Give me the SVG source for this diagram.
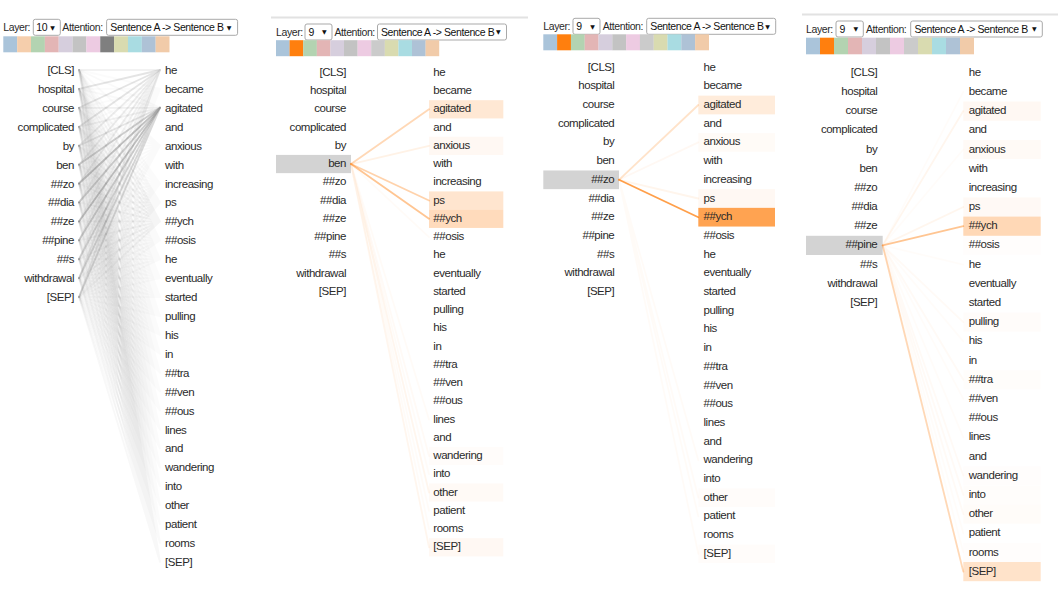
<svg xmlns="http://www.w3.org/2000/svg" width="1061" height="596" viewBox="0 0 1061 596">
<style>
.t{font-family:"Liberation Sans",Arial,sans-serif;font-size:11.5px;letter-spacing:-0.45px;fill:#2a2a2a}
.a{text-anchor:end}
.h{font-size:10.5px;letter-spacing:-0.4px}
.k{fill:#111}
.sel{fill:#fff;stroke:#a9a9a9;stroke-width:1}
.arr{font-family:"DejaVu Sans","Liberation Sans",sans-serif;font-size:6px;fill:#111}
.g{stroke:#808080;stroke-width:1.8;fill:none;stroke-linecap:round}
.o{stroke:#ff7f0e;stroke-width:1.8;fill:none;stroke-linecap:round}
.hl{fill:#d3d3d3}
.bx{fill:#ff7f0e}
.rule{stroke:#e2e2e2;stroke-width:2}
</style>
<rect width="1061" height="596" fill="#fff"/>
<line class="rule" x1="271" y1="17.5" x2="528" y2="17.5"/>
<line class="rule" x1="802" y1="14.5" x2="1058" y2="14.5"/>

<!-- headers -->
<g id="p1-head" transform="translate(3.3,19.3)">
<text class="t h" x="0" y="11.8">Layer:</text>
<rect class="sel" x="30" y="0" width="27" height="16" rx="2"/>
<text class="t h k" x="33" y="11.8">10</text>
<text class="arr" x="47" y="10.3">▼</text>
<text class="t h" x="59" y="11.8">Attention:</text>
<rect class="sel" x="103.3" y="0" width="131" height="16" rx="2"/>
<text class="t h k" x="107" y="11.8">Sentence A -&gt; Sentence B</text>
<text class="arr" x="223.5" y="10.3">▼</text>
<g transform="translate(0,17)">
<rect x="0" width="13.9" height="16" fill="#aac4da"/><rect x="13.85" width="13.9" height="16" fill="#f5ceac"/><rect x="27.7" width="13.9" height="16" fill="#b3d3b1"/><rect x="41.55" width="13.9" height="16" fill="#e3b5b5"/><rect x="55.4" width="13.9" height="16" fill="#d6cedd"/><rect x="69.25" width="13.9" height="16" fill="#c3c3c3"/><rect x="83.1" width="13.9" height="16" fill="#edcbe2"/><rect x="96.95" width="13.9" height="16" fill="#7f7f7f"/><rect x="110.8" width="13.9" height="16" fill="#d9dbb0"/><rect x="124.65" width="13.9" height="16" fill="#a9dce2"/><rect x="138.5" width="13.9" height="16" fill="#aec2d6"/><rect x="152.35" width="13.85" height="16" fill="#f1cba9"/>
</g>
</g>
<g id="p2-head" transform="translate(276,24)">
<text class="t h" x="0" y="11.8">Layer:</text>
<rect class="sel" x="29" y="0" width="27" height="16" rx="2"/>
<text class="t h k" x="32.5" y="11.8">9</text>
<text class="arr" x="46" y="10.3">▼</text>
<text class="t h" x="58.5" y="11.8">Attention:</text>
<rect class="sel" x="101.5" y="0" width="129" height="16" rx="2"/>
<text class="t h k" x="105" y="11.8">Sentence A -&gt; Sentence B</text>
<text class="arr" x="220" y="10.3">▼</text>
<g transform="translate(0,16.2)">
<rect x="0" width="13.7" height="16" fill="#aac4da"/><rect x="13.6" width="13.7" height="16" fill="#ff7f0e"/><rect x="27.2" width="13.7" height="16" fill="#b3d3b1"/><rect x="40.8" width="13.7" height="16" fill="#e3b5b5"/><rect x="54.4" width="13.7" height="16" fill="#d6cedd"/><rect x="68" width="13.7" height="16" fill="#c3c3c3"/><rect x="81.6" width="13.7" height="16" fill="#edcbe2"/><rect x="95.2" width="13.7" height="16" fill="#cbcbcb"/><rect x="108.8" width="13.7" height="16" fill="#d9dbb0"/><rect x="122.4" width="13.7" height="16" fill="#a9dce2"/><rect x="136" width="13.7" height="16" fill="#aec2d6"/><rect x="149.6" width="13.6" height="16" fill="#f1cba9"/>
</g>
</g>
<g id="p3-head" transform="translate(543.3,18.3)">
<text class="t h" x="0" y="11.8">Layer:</text>
<rect class="sel" x="29.7" y="0" width="27" height="16" rx="2"/>
<text class="t h k" x="33" y="11.8">9</text>
<text class="arr" x="47" y="10.3">▼</text>
<text class="t h" x="59.4" y="11.8">Attention:</text>
<rect class="sel" x="103.4" y="0" width="129" height="16" rx="2"/>
<text class="t h k" x="107" y="11.8">Sentence A -&gt; Sentence B</text>
<text class="arr" x="222" y="10.3">▼</text>
<g transform="translate(0,16)">
<rect x="0" width="13.9" height="16" fill="#aac4da"/><rect x="13.8" width="13.9" height="16" fill="#ff7f0e"/><rect x="27.6" width="13.9" height="16" fill="#b3d3b1"/><rect x="41.4" width="13.9" height="16" fill="#e3b5b5"/><rect x="55.2" width="13.9" height="16" fill="#d6cedd"/><rect x="69" width="13.9" height="16" fill="#c3c3c3"/><rect x="82.8" width="13.9" height="16" fill="#edcbe2"/><rect x="96.6" width="13.9" height="16" fill="#cbcbcb"/><rect x="110.4" width="13.9" height="16" fill="#d9dbb0"/><rect x="124.2" width="13.9" height="16" fill="#a9dce2"/><rect x="138" width="13.9" height="16" fill="#aec2d6"/><rect x="151.8" width="13.9" height="16" fill="#f1cba9"/>
</g>
</g>
<g id="p4-head" transform="translate(806,21)">
<text class="t h" x="0" y="11.8">Layer:</text>
<rect class="sel" x="30" y="0" width="27.3" height="16" rx="2"/>
<text class="t h k" x="33.5" y="11.8">9</text>
<text class="arr" x="47.5" y="10.3">▼</text>
<text class="t h" x="60" y="11.8">Attention:</text>
<rect class="sel" x="104.7" y="0" width="131.6" height="16" rx="2"/>
<text class="t h k" x="108.5" y="11.8">Sentence A -&gt; Sentence B</text>
<text class="arr" x="226" y="10.3">▼</text>
<g transform="translate(0,16.7)">
<rect x="0" width="14.1" height="16.6" fill="#aac4da"/><rect x="14" width="14.1" height="16.6" fill="#ff7f0e"/><rect x="28" width="14.1" height="16.6" fill="#b3d3b1"/><rect x="42" width="14.1" height="16.6" fill="#e3b5b5"/><rect x="56" width="14.1" height="16.6" fill="#d6cedd"/><rect x="70" width="14.1" height="16.6" fill="#c3c3c3"/><rect x="84" width="14.1" height="16.6" fill="#edcbe2"/><rect x="98" width="14.1" height="16.6" fill="#cbcbcb"/><rect x="112" width="14.1" height="16.6" fill="#d9dbb0"/><rect x="126" width="14.1" height="16.6" fill="#a9dce2"/><rect x="140" width="14.1" height="16.6" fill="#aec2d6"/><rect x="154" width="14" height="16.6" fill="#f1cba9"/>
</g>
</g>

<!-- highlight boxes -->
<g id="highlights">
<rect class="hl" x="276" y="154.9" width="75" height="18.25"/>
<rect class="bx" x="429" y="100.2" width="74.3" height="18.25" fill-opacity="0.18"/>
<rect class="bx" x="429" y="136.7" width="74.3" height="18.25" fill-opacity="0.05"/>
<rect class="bx" x="429" y="191.4" width="74.3" height="18.25" fill-opacity="0.2"/>
<rect class="bx" x="429" y="209.7" width="74.3" height="18.25" fill-opacity="0.28"/>
<rect class="bx" x="429" y="446.9" width="74.3" height="18.25" fill-opacity="0.02"/>
<rect class="bx" x="429" y="483.4" width="74.3" height="18.25" fill-opacity="0.035"/>
<rect class="bx" x="429" y="538.2" width="74.3" height="18.25" fill-opacity="0.05"/>

<rect class="hl" x="543.3" y="170.45" width="75.7" height="18.7"/>
<rect class="bx" x="698.3" y="95.65" width="76.7" height="18.7" fill-opacity="0.15"/>
<rect class="bx" x="698.3" y="133.05" width="76.7" height="18.7" fill-opacity="0.03"/>
<rect class="bx" x="698.3" y="189.15" width="76.7" height="18.7" fill-opacity="0.05"/>
<rect class="bx" x="698.3" y="207.85" width="76.7" height="18.7" fill-opacity="0.72"/>
<rect class="bx" x="698.3" y="488.35" width="76.7" height="18.7" fill-opacity="0.02"/>
<rect class="bx" x="698.3" y="544.45" width="76.7" height="18.7" fill-opacity="0.02"/>

<rect class="hl" x="806" y="235.8" width="76.7" height="19.19"/>
<rect class="bx" x="963.3" y="101.5" width="77.4" height="19.19" fill-opacity="0.05"/>
<rect class="bx" x="963.3" y="139.9" width="77.4" height="19.19" fill-opacity="0.035"/>
<rect class="bx" x="963.3" y="197.4" width="77.4" height="19.19" fill-opacity="0.045"/>
<rect class="bx" x="963.3" y="216.6" width="77.4" height="19.19" fill-opacity="0.3"/>
<rect class="bx" x="963.3" y="235.8" width="77.4" height="19.19" fill-opacity="0.012"/>
<rect class="bx" x="963.3" y="312.6" width="77.4" height="19.19" fill-opacity="0.02"/>
<rect class="bx" x="963.3" y="370.1" width="77.4" height="19.19" fill-opacity="0.015"/>
<rect class="bx" x="963.3" y="466.1" width="77.4" height="19.19" fill-opacity="0.012"/>
<rect class="bx" x="963.3" y="485.3" width="77.4" height="19.19" fill-opacity="0.015"/>
<rect class="bx" x="963.3" y="504.5" width="77.4" height="19.19" fill-opacity="0.022"/>
<rect class="bx" x="963.3" y="542.9" width="77.4" height="19.19" fill-opacity="0.01"/>
<rect class="bx" x="963.3" y="562" width="77.4" height="19.19" fill-opacity="0.22"/>
</g>

<!-- connectors -->
<g id="connectors">
<g id="p1-links" class="g">
<path stroke-opacity="0.03" d="M79 70L160 88.9M79 88.9L160 88.9M79 107.8L160 88.9M79 126.8L160 88.9M79 145.7L160 88.9M79 164.6L160 88.9M79 183.5L160 88.9M79 202.4L160 88.9M79 221.4L160 88.9M79 240.3L160 88.9M79 259.2L160 88.9M79 278.1L160 88.9M79 297L160 88.9"/>
<path stroke-opacity="0.04" d="M79 70L160 145.7M79 88.9L160 145.7M79 107.8L160 145.7M79 126.8L160 145.7M79 145.7L160 145.7M79 164.6L160 145.7M79 183.5L160 145.7M79 202.4L160 145.7M79 221.4L160 145.7M79 240.3L160 145.7M79 259.2L160 145.7M79 278.1L160 145.7M79 297L160 145.7"/>
<path stroke-opacity="0.03" d="M79 70L160 183.5M79 88.9L160 183.5M79 107.8L160 183.5M79 126.8L160 183.5M79 145.7L160 183.5M79 164.6L160 183.5M79 183.5L160 183.5M79 202.4L160 183.5M79 221.4L160 183.5M79 240.3L160 183.5M79 259.2L160 183.5M79 278.1L160 183.5M79 297L160 183.5"/>
<path stroke-opacity="0.05" d="M79 70L160 202.4M79 88.9L160 202.4M79 107.8L160 202.4M79 126.8L160 202.4M79 145.7L160 202.4M79 164.6L160 202.4M79 183.5L160 202.4M79 202.4L160 202.4M79 221.4L160 202.4M79 240.3L160 202.4M79 259.2L160 202.4M79 278.1L160 202.4M79 297L160 202.4"/>
<path stroke-opacity="0.08" d="M79 70L160 221.4M79 88.9L160 221.4M79 107.8L160 221.4M79 126.8L160 221.4M79 145.7L160 221.4M79 164.6L160 221.4M79 183.5L160 221.4M79 202.4L160 221.4M79 221.4L160 221.4M79 240.3L160 221.4M79 259.2L160 221.4M79 278.1L160 221.4M79 297L160 221.4"/>
<path stroke-opacity="0.04" d="M79 70L160 240.3M79 88.9L160 240.3M79 107.8L160 240.3M79 126.8L160 240.3M79 145.7L160 240.3M79 164.6L160 240.3M79 183.5L160 240.3M79 202.4L160 240.3M79 221.4L160 240.3M79 240.3L160 240.3M79 259.2L160 240.3M79 278.1L160 240.3M79 297L160 240.3"/>
<path stroke-opacity="0.04" d="M79 70L160 259.2M79 88.9L160 259.2M79 107.8L160 259.2M79 126.8L160 259.2M79 145.7L160 259.2M79 164.6L160 259.2M79 183.5L160 259.2M79 202.4L160 259.2M79 221.4L160 259.2M79 240.3L160 259.2M79 259.2L160 259.2M79 278.1L160 259.2M79 297L160 259.2"/>
<path stroke-opacity="0.03" d="M79 70L160 278.1M79 88.9L160 278.1M79 107.8L160 278.1M79 126.8L160 278.1M79 145.7L160 278.1M79 164.6L160 278.1M79 183.5L160 278.1M79 202.4L160 278.1M79 221.4L160 278.1M79 240.3L160 278.1M79 259.2L160 278.1M79 278.1L160 278.1M79 297L160 278.1"/>
<path stroke-opacity="0.03" d="M79 70L160 297M79 88.9L160 297M79 107.8L160 297M79 126.8L160 297M79 145.7L160 297M79 164.6L160 297M79 183.5L160 297M79 202.4L160 297M79 221.4L160 297M79 240.3L160 297M79 259.2L160 297M79 278.1L160 297M79 297L160 297"/>
<path stroke-opacity="0.03" d="M79 70L160 316M79 88.9L160 316M79 107.8L160 316M79 126.8L160 316M79 145.7L160 316M79 164.6L160 316M79 183.5L160 316M79 202.4L160 316M79 221.4L160 316M79 240.3L160 316M79 259.2L160 316M79 278.1L160 316M79 297L160 316"/>
<path stroke-opacity="0.03" d="M79 70L160 334.9M79 88.9L160 334.9M79 107.8L160 334.9M79 126.8L160 334.9M79 145.7L160 334.9M79 164.6L160 334.9M79 183.5L160 334.9M79 202.4L160 334.9M79 221.4L160 334.9M79 240.3L160 334.9M79 259.2L160 334.9M79 278.1L160 334.9M79 297L160 334.9"/>
<path stroke-opacity="0.03" d="M79 70L160 353.8M79 88.9L160 353.8M79 107.8L160 353.8M79 126.8L160 353.8M79 145.7L160 353.8M79 164.6L160 353.8M79 183.5L160 353.8M79 202.4L160 353.8M79 221.4L160 353.8M79 240.3L160 353.8M79 259.2L160 353.8M79 278.1L160 353.8M79 297L160 353.8"/>
<path stroke-opacity="0.03" d="M79 70L160 372.7M79 88.9L160 372.7M79 107.8L160 372.7M79 126.8L160 372.7M79 145.7L160 372.7M79 164.6L160 372.7M79 183.5L160 372.7M79 202.4L160 372.7M79 221.4L160 372.7M79 240.3L160 372.7M79 259.2L160 372.7M79 278.1L160 372.7M79 297L160 372.7"/>
<path stroke-opacity="0.03" d="M79 70L160 391.6M79 88.9L160 391.6M79 107.8L160 391.6M79 126.8L160 391.6M79 145.7L160 391.6M79 164.6L160 391.6M79 183.5L160 391.6M79 202.4L160 391.6M79 221.4L160 391.6M79 240.3L160 391.6M79 259.2L160 391.6M79 278.1L160 391.6M79 297L160 391.6"/>
<path stroke-opacity="0.03" d="M79 70L160 410.6M79 88.9L160 410.6M79 107.8L160 410.6M79 126.8L160 410.6M79 145.7L160 410.6M79 164.6L160 410.6M79 183.5L160 410.6M79 202.4L160 410.6M79 221.4L160 410.6M79 240.3L160 410.6M79 259.2L160 410.6M79 278.1L160 410.6M79 297L160 410.6"/>
<path stroke-opacity="0.03" d="M79 70L160 429.5M79 88.9L160 429.5M79 107.8L160 429.5M79 126.8L160 429.5M79 145.7L160 429.5M79 164.6L160 429.5M79 183.5L160 429.5M79 202.4L160 429.5M79 221.4L160 429.5M79 240.3L160 429.5M79 259.2L160 429.5M79 278.1L160 429.5M79 297L160 429.5"/>
<path stroke-opacity="0.03" d="M79 70L160 448.4M79 88.9L160 448.4M79 107.8L160 448.4M79 126.8L160 448.4M79 145.7L160 448.4M79 164.6L160 448.4M79 183.5L160 448.4M79 202.4L160 448.4M79 221.4L160 448.4M79 240.3L160 448.4M79 259.2L160 448.4M79 278.1L160 448.4M79 297L160 448.4"/>
<path stroke-opacity="0.03" d="M79 70L160 467.3M79 88.9L160 467.3M79 107.8L160 467.3M79 126.8L160 467.3M79 145.7L160 467.3M79 164.6L160 467.3M79 183.5L160 467.3M79 202.4L160 467.3M79 221.4L160 467.3M79 240.3L160 467.3M79 259.2L160 467.3M79 278.1L160 467.3M79 297L160 467.3"/>
<path stroke-opacity="0.03" d="M79 70L160 486.2M79 88.9L160 486.2M79 107.8L160 486.2M79 126.8L160 486.2M79 145.7L160 486.2M79 164.6L160 486.2M79 183.5L160 486.2M79 202.4L160 486.2M79 221.4L160 486.2M79 240.3L160 486.2M79 259.2L160 486.2M79 278.1L160 486.2M79 297L160 486.2"/>
<path stroke-opacity="0.03" d="M79 70L160 505.2M79 88.9L160 505.2M79 107.8L160 505.2M79 126.8L160 505.2M79 145.7L160 505.2M79 164.6L160 505.2M79 183.5L160 505.2M79 202.4L160 505.2M79 221.4L160 505.2M79 240.3L160 505.2M79 259.2L160 505.2M79 278.1L160 505.2M79 297L160 505.2"/>
<path stroke-opacity="0.03" d="M79 70L160 524.1M79 88.9L160 524.1M79 107.8L160 524.1M79 126.8L160 524.1M79 145.7L160 524.1M79 164.6L160 524.1M79 183.5L160 524.1M79 202.4L160 524.1M79 221.4L160 524.1M79 240.3L160 524.1M79 259.2L160 524.1M79 278.1L160 524.1M79 297L160 524.1"/>
<path stroke-opacity="0.04" d="M79 70L160 543M79 88.9L160 543M79 107.8L160 543M79 126.8L160 543M79 145.7L160 543M79 164.6L160 543M79 183.5L160 543M79 202.4L160 543M79 221.4L160 543M79 240.3L160 543M79 259.2L160 543M79 278.1L160 543M79 297L160 543"/>
<path stroke-opacity="0.06" d="M79 70L160 561.9M79 88.9L160 561.9M79 107.8L160 561.9M79 126.8L160 561.9M79 145.7L160 561.9M79 164.6L160 561.9M79 183.5L160 561.9M79 202.4L160 561.9M79 221.4L160 561.9M79 240.3L160 561.9M79 259.2L160 561.9M79 278.1L160 561.9M79 297L160 561.9"/>
<path stroke-opacity="0.1" d="M79 70L160 70M79 202.4L160 70M79 221.4L160 70M79 240.3L160 70M79 259.2L160 70"/>
<path stroke-opacity="0.21" d="M79 88.9L160 70M79 107.8L160 70M79 126.8L160 70"/>
<path stroke-opacity="0.15" d="M79 145.7L160 70M79 164.6L160 70M79 183.5L160 70M79 278.1L160 70M79 297L160 70"/>
<path stroke-opacity="0.05" d="M79 70L160 107.8M79 88.9L160 107.8"/>
<path stroke-opacity="0.11" d="M79 107.8L160 107.8M79 126.8L160 107.8"/>
<path stroke-opacity="0.2" d="M79 145.7L160 107.8"/>
<path stroke-opacity="0.3" d="M79 259.2L160 107.8M79 278.1L160 107.8M79 297L160 107.8"/>
<path stroke-opacity="0.38" d="M79 164.6L160 107.8M79 202.4L160 107.8M79 240.3L160 107.8"/>
<path stroke-opacity="0.48" d="M79 183.5L160 107.8M79 221.4L160 107.8"/>
</g>
<g id="p2-links" class="o">
<path stroke-opacity="0.3" d="M351 164.05L429 109.3"/>
<path stroke-opacity="0.1" d="M351 164.05L429 145.8"/>
<path stroke-opacity="0.35" d="M351 164.05L429 200.55"/>
<path stroke-opacity="0.45" d="M351 164.05L429 218.8"/>
<path stroke-opacity="0.03" d="M351 164.05L429 237.05M351 164.05L429 419.55M351 164.05L429 474.3M351 164.05L429 510.8M351 164.05L429 529.05"/>
<path stroke-opacity="0.04" d="M351 164.05L429 456.05"/>
<path stroke-opacity="0.07" d="M351 164.05L429 492.55M351 164.05L429 547.3"/>
</g>
<g id="p3-links" class="o">
<path stroke-opacity="0.22" d="M619 179.8L698.3 105"/>
<path stroke-opacity="0.05" d="M619 179.8L698.3 142.4"/>
<path stroke-opacity="0.08" d="M619 179.8L698.3 198.5"/>
<path stroke-opacity="0.75" d="M619 179.8L698.3 217.2"/>
<path stroke-opacity="0.03" d="M619 179.8L698.3 497.7M619 179.8L698.3 553.8M619 179.8L698.3 516.4M619 179.8L698.3 460.3"/>
</g>
<g id="p4-links" class="o">
<path stroke-opacity="0.07" d="M882.7 245.41L963.3 111.08M882.7 245.41L963.3 207.03"/>
<path stroke-opacity="0.025" d="M882.7 245.41L963.3 91.89M882.7 245.41L963.3 149.46M882.7 245.41L963.3 264.6M882.7 245.41L963.3 341.36M882.7 245.41L963.3 398.93M882.7 245.41L963.3 437.31M882.7 245.41L963.3 533.26M882.7 245.41L963.3 552.45"/>
<path stroke-opacity="0.45" d="M882.7 245.41L963.3 226.22"/>
<path stroke-opacity="0.04" d="M882.7 245.41L963.3 322.17M882.7 245.41L963.3 379.74M882.7 245.41L963.3 475.69M882.7 245.41L963.3 494.88M882.7 245.41L963.3 514.07"/>
<path stroke-opacity="0.3" d="M882.7 245.41L963.3 571.64"/>
</g>
</g>

<!-- panel 1 tokens -->
<g id="panel1" class="t">
<g id="p1-a0"><text class="a" x="74" y="74">[CLS]</text></g>
<g id="p1-a1"><text class="a" x="74" y="92.9">hospital</text></g>
<g id="p1-a2"><text class="a" x="74" y="111.8">course</text></g>
<g id="p1-a3"><text class="a" x="74" y="130.8">complicated</text></g>
<g id="p1-a4"><text class="a" x="74" y="149.7">by</text></g>
<g id="p1-a5"><text class="a" x="74" y="168.6">ben</text></g>
<g id="p1-a6"><text class="a" x="74" y="187.5">##zo</text></g>
<g id="p1-a7"><text class="a" x="74" y="206.4">##dia</text></g>
<g id="p1-a8"><text class="a" x="74" y="225.4">##ze</text></g>
<g id="p1-a9"><text class="a" x="74" y="244.3">##pine</text></g>
<g id="p1-a10"><text class="a" x="74" y="263.2">##s</text></g>
<g id="p1-a11"><text class="a" x="74" y="282.1">withdrawal</text></g>
<g id="p1-a12"><text class="a" x="74" y="301">[SEP]</text></g>
<g id="p1-b0"><text x="165" y="74">he</text></g>
<g id="p1-b1"><text x="165" y="92.9">became</text></g>
<g id="p1-b2"><text x="165" y="111.8">agitated</text></g>
<g id="p1-b3"><text x="165" y="130.8">and</text></g>
<g id="p1-b4"><text x="165" y="149.7">anxious</text></g>
<g id="p1-b5"><text x="165" y="168.6">with</text></g>
<g id="p1-b6"><text x="165" y="187.5">increasing</text></g>
<g id="p1-b7"><text x="165" y="206.4">ps</text></g>
<g id="p1-b8"><text x="165" y="225.4">##ych</text></g>
<g id="p1-b9"><text x="165" y="244.3">##osis</text></g>
<g id="p1-b10"><text x="165" y="263.2">he</text></g>
<g id="p1-b11"><text x="165" y="282.1">eventually</text></g>
<g id="p1-b12"><text x="165" y="301">started</text></g>
<g id="p1-b13"><text x="165" y="320">pulling</text></g>
<g id="p1-b14"><text x="165" y="338.9">his</text></g>
<g id="p1-b15"><text x="165" y="357.8">in</text></g>
<g id="p1-b16"><text x="165" y="376.7">##tra</text></g>
<g id="p1-b17"><text x="165" y="395.6">##ven</text></g>
<g id="p1-b18"><text x="165" y="414.6">##ous</text></g>
<g id="p1-b19"><text x="165" y="433.5">lines</text></g>
<g id="p1-b20"><text x="165" y="452.4">and</text></g>
<g id="p1-b21"><text x="165" y="471.3">wandering</text></g>
<g id="p1-b22"><text x="165" y="490.2">into</text></g>
<g id="p1-b23"><text x="165" y="509.2">other</text></g>
<g id="p1-b24"><text x="165" y="528.1">patient</text></g>
<g id="p1-b25"><text x="165" y="547">rooms</text></g>
<g id="p1-b26"><text x="165" y="565.9">[SEP]</text></g>
</g>

<!-- panel 2 tokens -->
<g id="panel2" class="t">
<g id="p2-a0"><text class="a" x="346" y="75.8">[CLS]</text></g>
<g id="p2-a1"><text class="a" x="346" y="94.05">hospital</text></g>
<g id="p2-a2"><text class="a" x="346" y="112.3">course</text></g>
<g id="p2-a3"><text class="a" x="346" y="130.55">complicated</text></g>
<g id="p2-a4"><text class="a" x="346" y="148.8">by</text></g>
<g id="p2-a5"><text class="a" x="346" y="167.05">ben</text></g>
<g id="p2-a6"><text class="a" x="346" y="185.3">##zo</text></g>
<g id="p2-a7"><text class="a" x="346" y="203.55">##dia</text></g>
<g id="p2-a8"><text class="a" x="346" y="221.8">##ze</text></g>
<g id="p2-a9"><text class="a" x="346" y="240.05">##pine</text></g>
<g id="p2-a10"><text class="a" x="346" y="258.3">##s</text></g>
<g id="p2-a11"><text class="a" x="346" y="276.55">withdrawal</text></g>
<g id="p2-a12"><text class="a" x="346" y="294.8">[SEP]</text></g>
<g id="p2-b0"><text x="433.3" y="75.8">he</text></g>
<g id="p2-b1"><text x="433.3" y="94.05">became</text></g>
<g id="p2-b2"><text x="433.3" y="112.3">agitated</text></g>
<g id="p2-b3"><text x="433.3" y="130.55">and</text></g>
<g id="p2-b4"><text x="433.3" y="148.8">anxious</text></g>
<g id="p2-b5"><text x="433.3" y="167.05">with</text></g>
<g id="p2-b6"><text x="433.3" y="185.3">increasing</text></g>
<g id="p2-b7"><text x="433.3" y="203.55">ps</text></g>
<g id="p2-b8"><text x="433.3" y="221.8">##ych</text></g>
<g id="p2-b9"><text x="433.3" y="240.05">##osis</text></g>
<g id="p2-b10"><text x="433.3" y="258.3">he</text></g>
<g id="p2-b11"><text x="433.3" y="276.55">eventually</text></g>
<g id="p2-b12"><text x="433.3" y="294.8">started</text></g>
<g id="p2-b13"><text x="433.3" y="313.05">pulling</text></g>
<g id="p2-b14"><text x="433.3" y="331.3">his</text></g>
<g id="p2-b15"><text x="433.3" y="349.55">in</text></g>
<g id="p2-b16"><text x="433.3" y="367.8">##tra</text></g>
<g id="p2-b17"><text x="433.3" y="386.05">##ven</text></g>
<g id="p2-b18"><text x="433.3" y="404.3">##ous</text></g>
<g id="p2-b19"><text x="433.3" y="422.55">lines</text></g>
<g id="p2-b20"><text x="433.3" y="440.8">and</text></g>
<g id="p2-b21"><text x="433.3" y="459.05">wandering</text></g>
<g id="p2-b22"><text x="433.3" y="477.3">into</text></g>
<g id="p2-b23"><text x="433.3" y="495.55">other</text></g>
<g id="p2-b24"><text x="433.3" y="513.8">patient</text></g>
<g id="p2-b25"><text x="433.3" y="532.05">rooms</text></g>
<g id="p2-b26"><text x="433.3" y="550.3">[SEP]</text></g>
</g>

<!-- panel 3 tokens -->
<g id="panel3" class="t">
<g id="p3-a0"><text class="a" x="614.3" y="70.6">[CLS]</text></g>
<g id="p3-a1"><text class="a" x="614.3" y="89.3">hospital</text></g>
<g id="p3-a2"><text class="a" x="614.3" y="108">course</text></g>
<g id="p3-a3"><text class="a" x="614.3" y="126.7">complicated</text></g>
<g id="p3-a4"><text class="a" x="614.3" y="145.4">by</text></g>
<g id="p3-a5"><text class="a" x="614.3" y="164.1">ben</text></g>
<g id="p3-a6"><text class="a" x="614.3" y="182.8">##zo</text></g>
<g id="p3-a7"><text class="a" x="614.3" y="201.5">##dia</text></g>
<g id="p3-a8"><text class="a" x="614.3" y="220.2">##ze</text></g>
<g id="p3-a9"><text class="a" x="614.3" y="238.9">##pine</text></g>
<g id="p3-a10"><text class="a" x="614.3" y="257.6">##s</text></g>
<g id="p3-a11"><text class="a" x="614.3" y="276.3">withdrawal</text></g>
<g id="p3-a12"><text class="a" x="614.3" y="295">[SEP]</text></g>
<g id="p3-b0"><text x="703.5" y="70.6">he</text></g>
<g id="p3-b1"><text x="703.5" y="89.3">became</text></g>
<g id="p3-b2"><text x="703.5" y="108">agitated</text></g>
<g id="p3-b3"><text x="703.5" y="126.7">and</text></g>
<g id="p3-b4"><text x="703.5" y="145.4">anxious</text></g>
<g id="p3-b5"><text x="703.5" y="164.1">with</text></g>
<g id="p3-b6"><text x="703.5" y="182.8">increasing</text></g>
<g id="p3-b7"><text x="703.5" y="201.5">ps</text></g>
<g id="p3-b8"><text x="703.5" y="220.2">##ych</text></g>
<g id="p3-b9"><text x="703.5" y="238.9">##osis</text></g>
<g id="p3-b10"><text x="703.5" y="257.6">he</text></g>
<g id="p3-b11"><text x="703.5" y="276.3">eventually</text></g>
<g id="p3-b12"><text x="703.5" y="295">started</text></g>
<g id="p3-b13"><text x="703.5" y="313.7">pulling</text></g>
<g id="p3-b14"><text x="703.5" y="332.4">his</text></g>
<g id="p3-b15"><text x="703.5" y="351.1">in</text></g>
<g id="p3-b16"><text x="703.5" y="369.8">##tra</text></g>
<g id="p3-b17"><text x="703.5" y="388.5">##ven</text></g>
<g id="p3-b18"><text x="703.5" y="407.2">##ous</text></g>
<g id="p3-b19"><text x="703.5" y="425.9">lines</text></g>
<g id="p3-b20"><text x="703.5" y="444.6">and</text></g>
<g id="p3-b21"><text x="703.5" y="463.3">wandering</text></g>
<g id="p3-b22"><text x="703.5" y="482">into</text></g>
<g id="p3-b23"><text x="703.5" y="500.7">other</text></g>
<g id="p3-b24"><text x="703.5" y="519.4">patient</text></g>
<g id="p3-b25"><text x="703.5" y="538.1">rooms</text></g>
<g id="p3-b26"><text x="703.5" y="556.8">[SEP]</text></g>
</g>

<!-- panel 4 tokens -->
<g id="panel4" class="t">
<g id="p4-a0"><text class="a" x="877.3" y="75.7">[CLS]</text></g>
<g id="p4-a1"><text class="a" x="877.3" y="94.9">hospital</text></g>
<g id="p4-a2"><text class="a" x="877.3" y="114.1">course</text></g>
<g id="p4-a3"><text class="a" x="877.3" y="133.3">complicated</text></g>
<g id="p4-a4"><text class="a" x="877.3" y="152.5">by</text></g>
<g id="p4-a5"><text class="a" x="877.3" y="171.7">ben</text></g>
<g id="p4-a6"><text class="a" x="877.3" y="190.8">##zo</text></g>
<g id="p4-a7"><text class="a" x="877.3" y="210">##dia</text></g>
<g id="p4-a8"><text class="a" x="877.3" y="229.2">##ze</text></g>
<g id="p4-a9"><text class="a" x="877.3" y="248.4">##pine</text></g>
<g id="p4-a10"><text class="a" x="877.3" y="267.6">##s</text></g>
<g id="p4-a11"><text class="a" x="877.3" y="286.8">withdrawal</text></g>
<g id="p4-a12"><text class="a" x="877.3" y="306">[SEP]</text></g>
<g id="p4-b0"><text x="968.7" y="75.7">he</text></g>
<g id="p4-b1"><text x="968.7" y="94.9">became</text></g>
<g id="p4-b2"><text x="968.7" y="114.1">agitated</text></g>
<g id="p4-b3"><text x="968.7" y="133.3">and</text></g>
<g id="p4-b4"><text x="968.7" y="152.5">anxious</text></g>
<g id="p4-b5"><text x="968.7" y="171.7">with</text></g>
<g id="p4-b6"><text x="968.7" y="190.8">increasing</text></g>
<g id="p4-b7"><text x="968.7" y="210">ps</text></g>
<g id="p4-b8"><text x="968.7" y="229.2">##ych</text></g>
<g id="p4-b9"><text x="968.7" y="248.4">##osis</text></g>
<g id="p4-b10"><text x="968.7" y="267.6">he</text></g>
<g id="p4-b11"><text x="968.7" y="286.8">eventually</text></g>
<g id="p4-b12"><text x="968.7" y="306">started</text></g>
<g id="p4-b13"><text x="968.7" y="325.2">pulling</text></g>
<g id="p4-b14"><text x="968.7" y="344.4">his</text></g>
<g id="p4-b15"><text x="968.7" y="363.6">in</text></g>
<g id="p4-b16"><text x="968.7" y="382.7">##tra</text></g>
<g id="p4-b17"><text x="968.7" y="401.9">##ven</text></g>
<g id="p4-b18"><text x="968.7" y="421.1">##ous</text></g>
<g id="p4-b19"><text x="968.7" y="440.3">lines</text></g>
<g id="p4-b20"><text x="968.7" y="459.5">and</text></g>
<g id="p4-b21"><text x="968.7" y="478.7">wandering</text></g>
<g id="p4-b22"><text x="968.7" y="497.9">into</text></g>
<g id="p4-b23"><text x="968.7" y="517.1">other</text></g>
<g id="p4-b24"><text x="968.7" y="536.3">patient</text></g>
<g id="p4-b25"><text x="968.7" y="555.5">rooms</text></g>
<g id="p4-b26"><text x="968.7" y="574.7">[SEP]</text></g>
</g>
</svg>
